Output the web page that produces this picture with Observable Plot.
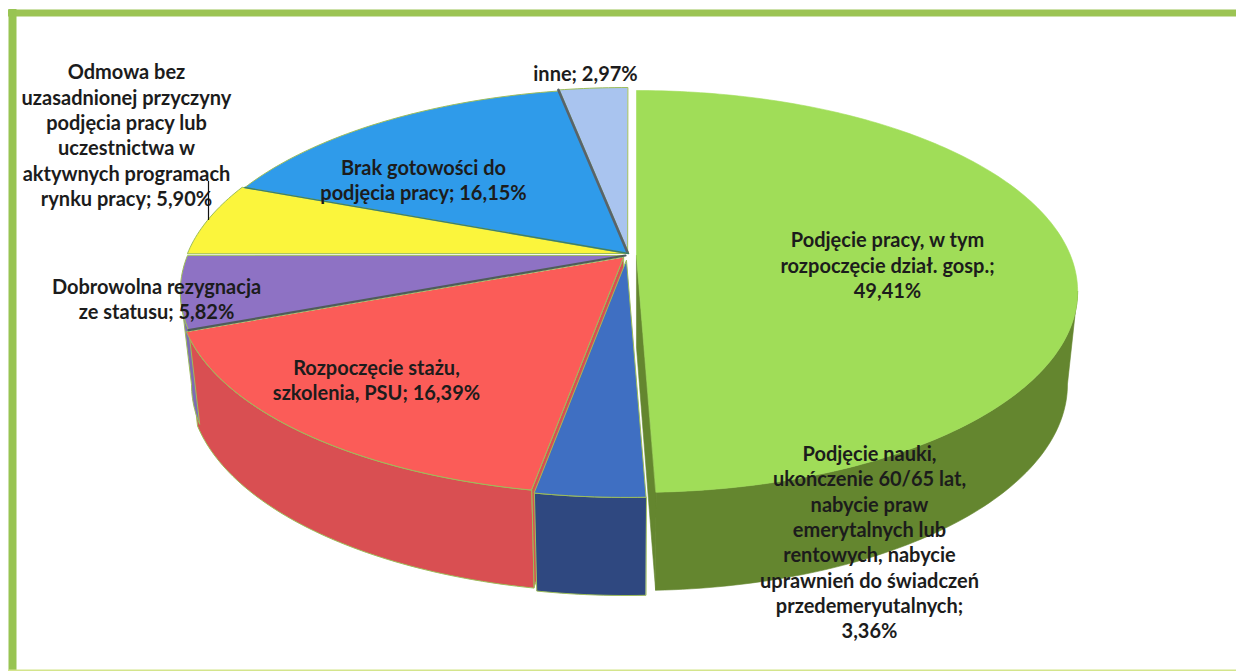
<!DOCTYPE html>
<html>
<head>
<meta charset="utf-8">
<script src="https://cdn.jsdelivr.net/npm/d3@7"></script>
<script src="https://cdn.jsdelivr.net/npm/@observablehq/plot@0.6"></script>
<style>html,body{margin:0;padding:0;background:#fff;overflow:hidden}svg{display:block}</style>
</head>
<body>
<div id="chart"></div>
<script>
// Data, clockwise from 12 o'clock
const categories = ["Podjęcie pracy, w tym rozpoczęcie dział. gosp.", "Podjęcie nauki, ukończenie 60/65 lat, nabycie praw emerytalnych lub rentowych, nabycie uprawnień do świadczeń przedemerytalnych", "Rozpoczęcie stażu, szkolenia, PSU", "Dobrowolna rezygnacja ze statusu", "Odmowa bez uzasadnionej przyczyny podjęcia pracy lub uczestnictwa w aktywnych programach rynku pracy", "Brak gotowości do podjęcia pracy", "inne"];
const values = [49.41, 3.36, 16.39, 5.82, 5.90, 16.15, 2.97];

// Styles
const topColors = ["#a0dd58", "#3f6fc2", "#fb5c58", "#8e72c4", "#fbf53c", "#2f9bea", "#a9c4ef"];
const wallColors = ["#64862f", "#2f4880", "#d94f52", "#7d6cb4", "#c9c430", "#2378bb", "#8aa0c8"];
const offsetX = [11, 1, -2, 0, 0, 3, 2];
const offsetY = [0, 5, 2, 0, -2, -2, -3];
const seam = "#9dbd5a";

// Labels
const labelText = [
  "Podjęcie pracy, w tym\nrozpoczęcie dział. gosp.;\n49,41%",
  "Podjęcie nauki,\nukończenie 60/65 lat,\nnabycie praw\nemerytalnych lub\nrentowych, nabycie\nuprawnień do świadczeń\nprzedemeryutalnych;\n3,36%",
  "Rozpoczęcie stażu,\nszkolenia, PSU; 16,39%",
  "Dobrowolna rezygnacja\nze statusu; 5,82%",
  "Odmowa bez\nuzasadnionej przyczyny\npodjęcia pracy lub\nuczestnictwa w\naktywnych programach\nrynku pracy; 5,90%",
  "Brak gotowości do\npodjęcia pracy; 16,15%",
  "inne; 2,97%"
];
const labelX = [887, 869, 376, 156, 126, 423, 585];
const labelY = [264, 541, 379, 298, 134, 179, 72];

// Perspective disc: unit circle -> screen
const pie = {cx: 625, cy: 255, w: 434, wLeft: 438, h: 194.5, k: 0.179, depth: 92, wBottom: 424, wBottomLeft: 427, hBottom: 199.5};
const TANGENT_A = 100.3, TANGENT_B = 259.7; // silhouette limits of the side wall

function project(deg, i, bottom) {
  const a = deg * Math.PI / 180, u = Math.sin(a), v = -Math.cos(a);
  const d = 1 - pie.k * v;
  const w = bottom ? (u < 0 ? pie.wBottomLeft : pie.wBottom) : (u < 0 ? pie.wLeft : pie.w);
  return {
    x: pie.cx + offsetX[i] + w * u / d,
    y: pie.cy + offsetY[i] + (bottom ? pie.depth : 0) + (bottom ? pie.hBottom : pie.h) * v / d
  };
}
function arc(a0, a1, i, bottom) {
  const n = Math.max(2, Math.ceil(Math.abs(a1 - a0))), pts = [];
  for (let j = 0; j <= n; ++j) pts.push(project(a0 + (a1 - a0) * j / n, i, bottom));
  return pts;
}
const centre = (i, bottom) => ({x: pie.cx + offsetX[i], y: pie.cy + offsetY[i] + (bottom ? pie.depth : 0)});
const poly = (pts, fill, stroke, strokeWidth = 1) =>
  Plot.line(pts, {x: "x", y: "y", curve: "linear-closed", fill, stroke: stroke || fill, strokeWidth: stroke ? strokeWidth : 0.6, strokeLinejoin: "round"});

const total = d3.sum(values);
const ends = Array.from(d3.cumsum(values), v => v / total * 360);
const starts = ends.map((e, i) => i ? ends[i - 1] : 0);

const marks = [];
// frame of the scan
marks.push(Plot.ruleY([12.5], {x1: 8, x2: 1236, stroke: "#9cc454", strokeWidth: 7}));
marks.push(Plot.ruleX([12], {y1: 9, y2: 671, stroke: "#98c452", strokeWidth: 8}));
marks.push(Plot.ruleY([670], {x1: 8, x2: 1236, stroke: "#d4e58c", strokeWidth: 2}));

// cut faces that show through the exploded gaps
marks.push(poly([centre(0), project(ends[0], 0), project(ends[0], 0, true), centre(0, true)], wallColors[0]));
marks.push(poly([centre(2), project(ends[1], 2), project(ends[1], 2, true), centre(2, true)], wallColors[2], seam));

// outer walls
[0, 2, 3, 1].forEach(i => {
  const a0 = Math.max(starts[i], TANGENT_A), a1 = Math.min(ends[i], TANGENT_B);
  if (a1 <= a0) return;
  const pts = [...arc(a0, a1, i), ...arc(a1, a0, i, true)];
  marks.push(poly(pts, wallColors[i], i === 0 ? null : seam));
});

// top surfaces, back to front
[6, 5, 4, 3, 2, 1, 0].forEach(i => {
  const pts = [centre(i), ...arc(starts[i], ends[i], i)];
  marks.push(poly(pts, topColors[i], i === 0 ? null : seam));
});

// dark radial edges between slices
const edge = (i, deg, stroke, strokeWidth) =>
  Plot.line([centre(i), project(deg, i)], {x: "x", y: "y", stroke, strokeWidth});
marks.push(edge(6, ends[5], "#59636a", 2.6));
marks.push(edge(3, starts[3], "#4f5c5a", 2.2));
marks.push(edge(5, starts[5], "#3c7f6c", 1.4));

// labels
const labels = labelText.map((text, i) => ({text, x: labelX[i], y: labelY[i]}));
marks.push(Plot.text(labels, {
  x: "x", y: "y", text: "text", textAnchor: "middle", lineAnchor: "middle",
  fontFamily: "Lato", fontWeight: "bold", fontSize: 20, lineHeight: 1.265, fill: "#1c1c1c"
}));
// leader stub
marks.push(Plot.ruleX([208], {y1: 181, y2: 220, stroke: "#111", strokeWidth: 1.2}));

const chart = Plot.plot({
  width: 1236, height: 671,
  margin: 0,
  x: {domain: [0, 1236], range: [0, 1236], axis: null},
  y: {domain: [0, 671], range: [0, 671], axis: null},
  style: {background: "#fff"},
  marks
});
document.getElementById("chart").append(chart);
</script>
</body>
</html>
